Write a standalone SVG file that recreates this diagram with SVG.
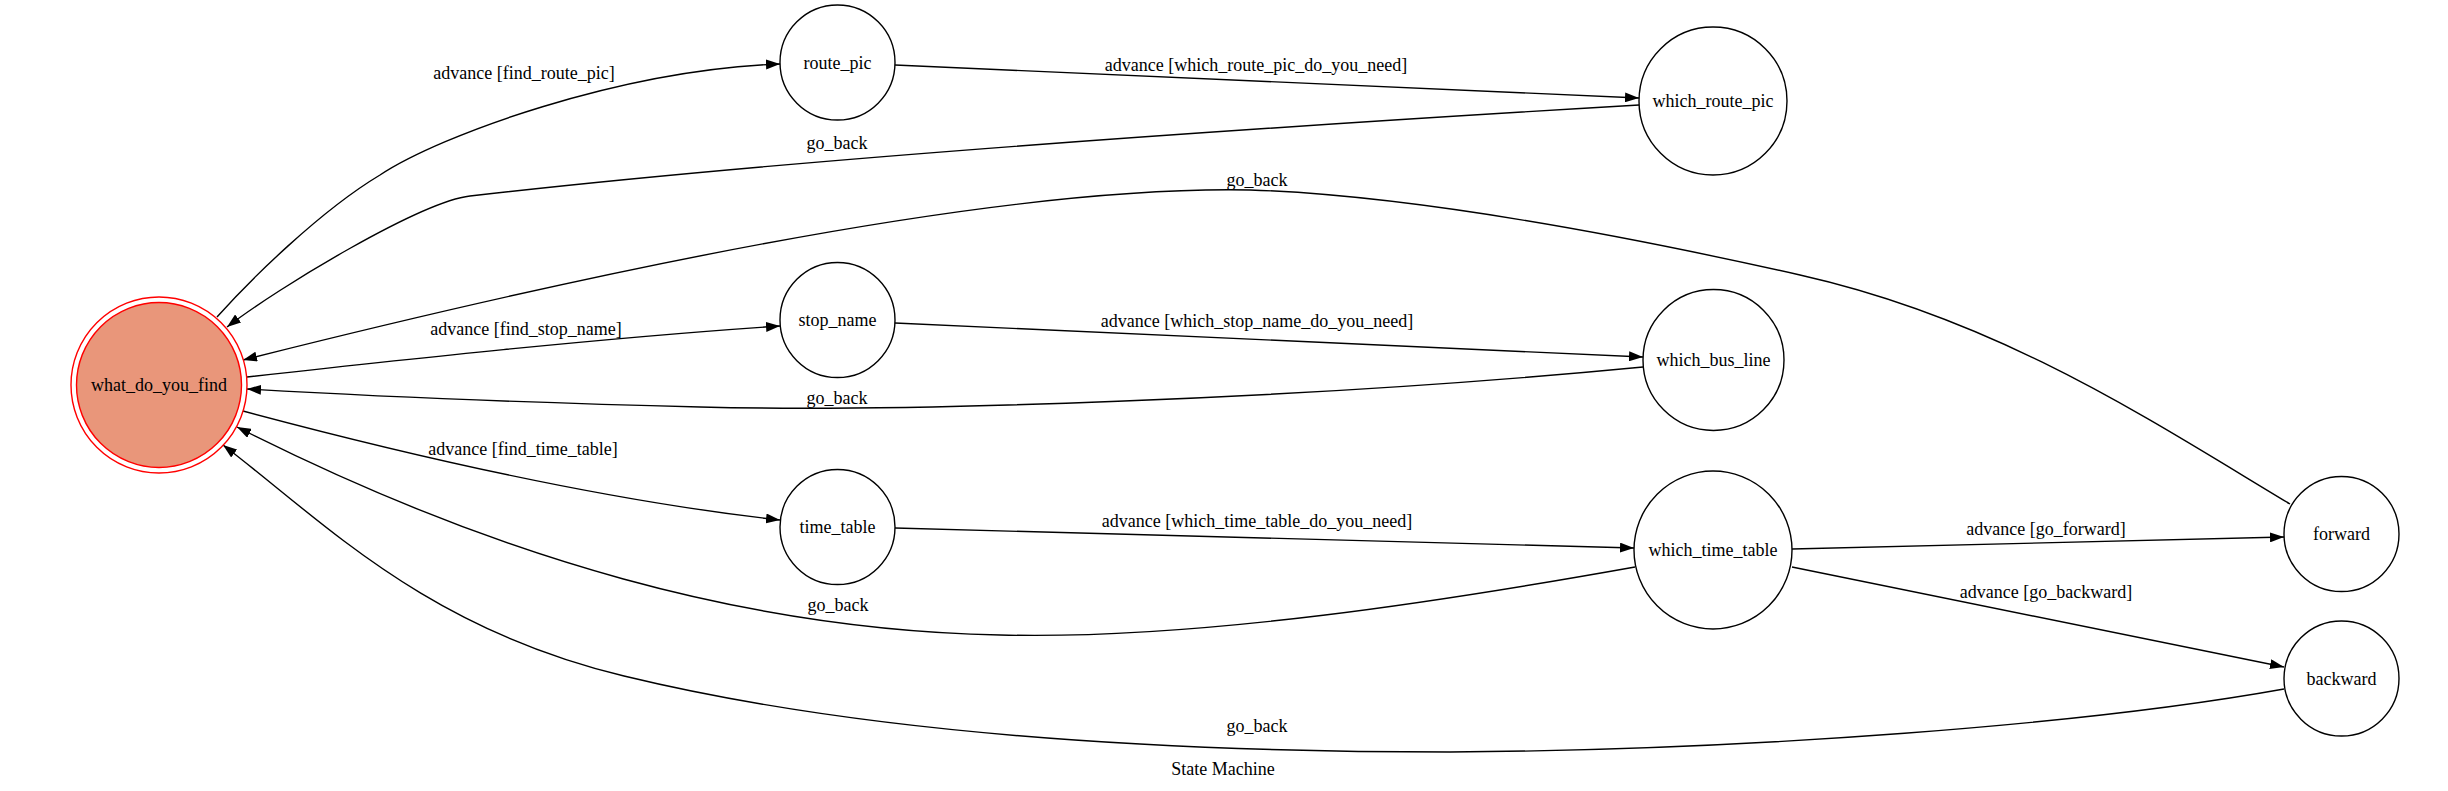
<svg xmlns="http://www.w3.org/2000/svg" width="2448" height="791" viewBox="0 0 2448 791">
<style>
text{font-family:"Liberation Serif","Times New Roman",serif;font-size:18px;fill:#000;text-anchor:middle}
.n{fill:none;stroke:#000;stroke-width:1.4}
.e{fill:none;stroke:#000;stroke-width:1.4}
</style>
<defs>
<marker id="arr" markerUnits="userSpaceOnUse" markerWidth="14" markerHeight="10" viewBox="0 0 14 10" refX="14" refY="5" orient="auto">
<path d="M0,0 L14,5 L0,10 z" fill="#000"/>
</marker>
</defs>
<rect width="2448" height="791" fill="#fff"/>
<g id="connectors">
<g id="e1"><path class="e" d="M217,317 C250,280 320,211 380,175 C440,135 620,70 780,64" marker-end="url(#arr)"/><text x="524" y="79">advance [find_route_pic]</text></g>
<g id="e2"><path class="e" d="M895,65 L1639,98" marker-end="url(#arr)"/><text x="1256" y="71">advance [which_route_pic_do_you_need]</text></g>
<g id="e3"><path class="e" d="M1639,105 C1300,125 800,158 470,196 C420,202 279,287 227,327" marker-end="url(#arr)"/><text x="837" y="149">go_back</text></g>
<g id="e4"><path class="e" d="M2290,504 C2150,420 2000,320 1800,275 C1600,230 1400,195 1250,190 C1000,185 600,270 243,360" marker-end="url(#arr)"/><text x="1257" y="186">go_back</text></g>
<g id="e5"><path class="e" d="M247,377 C400,360 600,338 780,326" marker-end="url(#arr)"/><text x="526" y="335">advance [find_stop_name]</text></g>
<g id="e6"><path class="e" d="M895,323 L1643,357" marker-end="url(#arr)"/><text x="1257" y="327">advance [which_stop_name_do_you_need]</text></g>
<g id="e7"><path class="e" d="M1643,367 C1300,400 900,412 700,407 C500,402 350,395 247,389" marker-end="url(#arr)"/><text x="837" y="404">go_back</text></g>
<g id="e8"><path class="e" d="M243,411 C400,453 600,500 780,520" marker-end="url(#arr)"/><text x="523" y="455">advance [find_time_table]</text></g>
<g id="e9"><path class="e" d="M895,528 L1634,548" marker-end="url(#arr)"/><text x="1257" y="527">advance [which_time_table_do_you_need]</text></g>
<g id="e10"><path class="e" d="M1635,567 C1450,600 1200,640 1000,635 C750,630 500,560 237,427" marker-end="url(#arr)"/><text x="838" y="611">go_back</text></g>
<g id="e11"><path class="e" d="M1792,549 L2284,537" marker-end="url(#arr)"/><text x="2046" y="535">advance [go_forward]</text></g>
<g id="e12"><path class="e" d="M1792,567 L2284,667" marker-end="url(#arr)"/><text x="2046" y="598">advance [go_backward]</text></g>
<g id="e13"><path class="e" d="M2284,689 C2084,725 1750,750 1450,752 C1200,752 880,738 624,676 C424,628 323,521 223,445" marker-end="url(#arr)"/><text x="1257" y="732">go_back</text></g>
</g>
<g id="what_do_you_find"><circle cx="159" cy="385" r="88" fill="none" stroke="#f00" stroke-width="1.4"/><circle cx="159" cy="385" r="82.5" fill="#e9967a" stroke="#f00" stroke-width="1.4"/><text x="159" y="391">what_do_you_find</text></g>
<g id="route_pic"><circle class="n" cx="837.5" cy="62.5" r="57.5"/><text x="837.5" y="68.5">route_pic</text></g>
<g id="which_route_pic"><circle class="n" cx="1713" cy="101" r="74"/><text x="1713" y="107">which_route_pic</text></g>
<g id="stop_name"><circle class="n" cx="837.5" cy="320" r="57.5"/><text x="837.5" y="326">stop_name</text></g>
<g id="which_bus_line"><circle class="n" cx="1713.5" cy="360" r="70.5"/><text x="1713.5" y="366">which_bus_line</text></g>
<g id="time_table"><circle class="n" cx="837.5" cy="527" r="57.5"/><text x="837.5" y="533">time_table</text></g>
<g id="which_time_table"><circle class="n" cx="1713" cy="550" r="79"/><text x="1713" y="556">which_time_table</text></g>
<g id="forward"><circle class="n" cx="2341.5" cy="534" r="57.5"/><text x="2341.5" y="540">forward</text></g>
<g id="backward"><circle class="n" cx="2341.5" cy="678.5" r="57.5"/><text x="2341.5" y="684.5">backward</text></g>
<text x="1223" y="775">State Machine</text>
</svg>
